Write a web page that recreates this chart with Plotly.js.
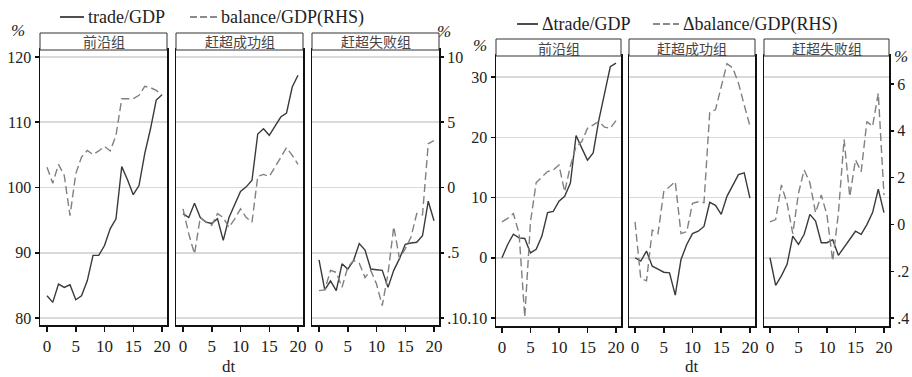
<!DOCTYPE html>
<html><head><meta charset="utf-8">
<script src="https://cdn.plot.ly/plotly-3.0.1.min.js"></script>
<style>html,body{margin:0;padding:0;background:#fff}#chart{width:912px;height:377px}</style>
</head><body><div id="chart"></div>
<script>
// ---------- data ----------
const dt = [0,1,2,3,4,5,6,7,8,9,10,11,12,13,14,15,16,17,18,19,20];
const groups = ['前沿组','赶超成功组','赶超失败组'];
const xTicks = [0,5,10,15,20];

// left panel: levels
const tradeFrontier   = [83.4,82.4,85.2,84.7,85.1,82.8,83.4,85.7,89.6,89.6,91.1,93.7,95.2,103.2,101.2,98.9,100.3,105.2,109.0,113.4,114.2];
const balanceFrontier = [1.56,0.33,1.77,0.92,-2.15,1.05,2.33,2.84,2.53,2.8,3.15,2.8,4.0,6.8,6.8,6.8,7.06,7.75,7.65,7.44,7.1];
const tradeSuccess    = [96.0,95.4,97.6,95.4,94.7,94.5,95.2,91.9,95.4,97.5,99.4,100.1,101.1,108.2,109.0,108.0,109.5,110.8,111.4,115.4,117.2];
const balanceSuccess  = [-1.64,-3.55,-5.09,-2.3,-2.66,-2.9,-2.0,-2.3,-3.05,-2.4,-1.64,-2.3,-2.66,0.85,1.0,0.85,1.56,2.33,3.05,2.46,1.77];
const tradeFail       = [88.9,84.3,85.7,84.2,88.3,87.5,88.8,91.4,90.4,87.5,87.4,87.3,84.7,87.3,89.1,91.3,91.5,91.6,92.6,97.9,94.9];
const balanceFail     = [-7.9,-7.85,-6.35,-6.5,-7.65,-6.1,-5.6,-5.8,-6.9,-6.35,-7.4,-9.05,-6.6,-3.0,-5.45,-4.7,-3.8,-2.0,-2.1,3.35,3.6];

// right panel: changes
const dTradeFrontier   = [0,2.2,3.9,3.3,3.2,0.8,1.4,3.6,7.5,7.7,9.4,10.2,12.4,20.3,18.2,16.2,17.4,22.9,27.3,31.7,32.3];
const dBalanceFrontier = [0.11,0.26,0.47,-0.39,-3.96,0.11,1.79,2.04,2.26,2.33,2.54,1.4,2.5,3.33,3.54,4.11,4.26,4.4,4.16,4.11,4.44];
const dTradeSuccess    = [0,-0.55,1.1,-1.4,-1.9,-2.4,-2.5,-6.2,-0.3,2.2,4.0,4.4,5.2,9.2,8.7,7.2,10.2,11.9,13.8,14.1,9.9];
const dBalanceSuccess  = [0.11,-2.31,-2.41,-0.24,-0.39,1.4,1.61,1.83,-0.39,-0.31,0.9,0.97,0.93,4.79,4.9,5.83,6.87,6.69,6.04,5.11,4.21];
const dTradeFail       = [0,-4.6,-3.0,-1.1,3.6,2.2,3.9,7.2,6.1,2.5,2.5,3.0,0.4,1.7,3.0,4.4,3.9,5.5,7.5,11.4,7.5];
const dBalanceFail     = [0.11,0.21,1.69,0.9,-0.39,1.33,2.33,1.79,0.5,1.26,0.4,-1.56,0.47,3.64,1.19,2.76,2.26,4.4,4.19,5.61,1.26];

// tick labels
const leftLTicks = [80,90,100,110,120];
const leftLText  = ['80','90','100','110','120'];
const leftRTicks = [-10,-5,0,5,10];
const leftRText  = ['.10','.5','0','5','10'];
const rightLTicks = [-10,0,10,20,30];
const rightLText  = ['.10','0','10','20','30'];
const rightRTicks = [-4,-2,0,2,4,6];
const rightRText  = ['.4','.2','0','2','4','6'];

const legendLeft  = ['trade/GDP','balance/GDP(RHS)'];
const legendRight = ['Δtrade/GDP','Δbalance/GDP(RHS)'];

// ---------- layout helpers ----------
const W = 912, H = 377;
const fx = p => p / W;
const fy = p => 1 - p / H;
const SERIF = 'Liberation Serif, Times New Roman, serif';
const CJK = 'Noto Sans CJK SC, sans-serif';

const panels = [
  {facets: [[40,167],[176,303],[312,439]], top: 50, bottom: 325, stripTop: 33,
   xr: [-1.22, 20.87], yl: [78.93, 121.07], yr: [-10.535, 10.535],
   lT: leftLTicks, lX: leftLText, rT: leftRTicks, rX: leftRText,
   series: [[tradeFrontier,balanceFrontier],[tradeSuccess,balanceSuccess],[tradeFail,balanceFail]]},
  {facets: [[496,621],[629,755],[764,889]], top: 56, bottom: 326, stripTop: 39,
   xr: [-1.05, 20.88], yl: [-11.33, 33.49], yr: [-4.34, 7.2],
   lT: rightLTicks, lX: rightLText, rT: rightRTicks, rX: rightRText,
   series: [[dTradeFrontier,dBalanceFrontier],[dTradeSuccess,dBalanceSuccess],[dTradeFail,dBalanceFail]]}
];

const traces = [];
const layout = {
  width: W, height: H, margin: {l:0,r:0,t:0,b:0},
  paper_bgcolor: '#fff', plot_bgcolor: '#fff', showlegend: false,
  font: {family: SERIF, size: 17, color: '#222'},
  shapes: [], annotations: []
};

let k = 0;
panels.forEach((P) => {
  P.facets.forEach((f, j) => {
    const xi = k + 1, yl = 2*k + 1, yr = 2*k + 2;
    const xName = 'xaxis' + (xi === 1 ? '' : xi);
    const ylName = 'yaxis' + (yl === 1 ? '' : yl);
    const yrName = 'yaxis' + yr;
    layout[xName] = {
      domain: [fx(f[0]), fx(f[1])], range: P.xr, anchor: 'y' + (yl === 1 ? '' : yl),
      tickvals: xTicks, ticks: 'outside', ticklen: 5, tickwidth: 1.5, tickcolor: '#111',
      showline: true, linecolor: '#111', linewidth: 2, mirror: true,
      showgrid: false, zeroline: false, fixedrange: true,
      tickfont: {family: SERIF, size: 17, color: '#222'}
    };
    layout[ylName] = {
      domain: [fy(P.bottom), fy(P.top)], range: P.yl, anchor: 'x' + (xi === 1 ? '' : xi),
      tickvals: P.lT, ticktext: P.lX,
      ticks: j === 0 ? 'outside' : '', ticklen: 4, tickwidth: 1.5, tickcolor: '#111',
      showticklabels: j === 0, ticklabelstandoff: 0,
      showline: true, linecolor: '#111', linewidth: 1.5, mirror: true,
      showgrid: true, gridcolor: '#d9d9d9', gridwidth: 1.5, zeroline: false, fixedrange: true,
      tickfont: {family: SERIF, size: 16, color: '#222'}
    };
    layout[yrName] = {
      overlaying: 'y' + (yl === 1 ? '' : yl), side: 'right', anchor: 'x' + (xi === 1 ? '' : xi),
      range: P.yr, tickvals: P.rT, ticktext: P.rX,
      ticks: j === 2 ? 'outside' : '', ticklen: 4, tickwidth: 1.5, tickcolor: '#111',
      showticklabels: j === 2, ticklabelstandoff: 0, showline: false, showgrid: false, zeroline: false, fixedrange: true,
      tickfont: {family: SERIF, size: 16, color: '#222'}
    };
    const xa = 'x' + (xi === 1 ? '' : xi);
    traces.push({x: dt, y: P.series[j][0], xaxis: xa, yaxis: 'y' + (yl === 1 ? '' : yl),
      type: 'scatter', mode: 'lines', line: {color: '#3a3a3a', width: 1.4}, hoverinfo: 'skip'});
    traces.push({x: dt, y: P.series[j][1], xaxis: xa, yaxis: 'y' + yr,
      type: 'scatter', mode: 'lines', line: {color: '#808080', width: 1.4, dash: '8px,4px'}, hoverinfo: 'skip'});
    // strip
    layout.shapes.push({type: 'rect', xref: 'paper', yref: 'paper',
      x0: fx(f[0]), x1: fx(f[1]), y0: fy(P.top), y1: fy(P.stripTop),
      line: {color: '#333', width: 1}, fillcolor: '#fff', layer: 'above'});
    layout.annotations.push({xref: 'paper', yref: 'paper', x: fx((f[0]+f[1])/2), y: fy((P.top+P.stripTop)/2),
      text: groups[j], showarrow: false, xanchor: 'center', yanchor: 'middle',
      font: {family: CJK, size: 14, color: '#444'}});
    k++;
  });
});

// axis titles
layout.annotations.push({xref:'paper',yref:'paper',x:fx(229),y:fy(366),text:'dt',showarrow:false,xanchor:'center',yanchor:'middle',font:{family:SERIF,size:17,color:'#222'}});
layout.annotations.push({xref:'paper',yref:'paper',x:fx(692),y:fy(366),text:'dt',showarrow:false,xanchor:'center',yanchor:'middle',font:{family:SERIF,size:17,color:'#222'}});
// percent units
[[18,30],[444,31],[480,46],[901,57]].forEach(p => layout.annotations.push({xref:'paper',yref:'paper',x:fx(p[0]),y:fy(p[1]),text:'<i>%</i>',showarrow:false,xanchor:'center',yanchor:'middle',font:{family:SERIF,size:17,color:'#222'}}));

// legends (line samples + text)
function legendItem(x0, x1, y, dash, color, label) {
  layout.shapes.push({type:'line',xref:'paper',yref:'paper',x0:fx(x0),x1:fx(x1),y0:fy(y),y1:fy(y),
    line:{color:color,width:1.6,dash:dash}});
  layout.annotations.push({xref:'paper',yref:'paper',x:fx(x1+2),y:fy(y),text:label,showarrow:false,
    xanchor:'left',yanchor:'middle',font:{family:SERIF,size:18,color:'#222'}});
}
legendItem(60, 84, 17, 'solid', '#222', legendLeft[0]);
legendItem(190, 217, 17, '7px,3px', '#666', legendLeft[1]);
legendItem(517, 538, 24, 'solid', '#222', legendRight[0]);
legendItem(653, 679, 24, '7px,3px', '#666', legendRight[1]);

Plotly.newPlot('chart', traces, layout, {staticPlot: true, displayModeBar: false});
</script>
</body></html>
